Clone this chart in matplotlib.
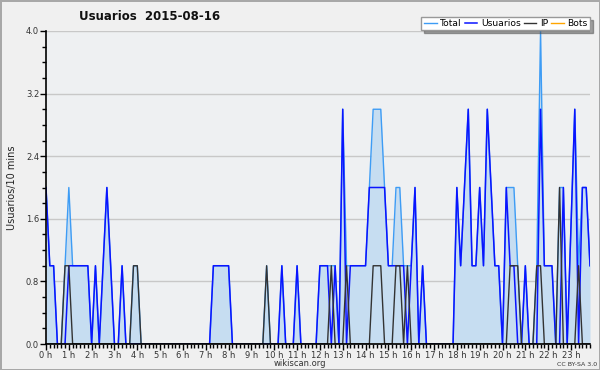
import matplotlib
matplotlib.use("Agg")
from matplotlib import pyplot as plt
from matplotlib.ticker import MultipleLocator, FixedLocator

# one value per 10 minutes, one row per hour (0 h ... 23 h)
usuarios = [
    2, 1, 1, 0, 0, 0,
    1, 1, 1, 1, 1, 1,
    0, 1, 0, 1, 2, 1,
    0, 0, 1, 0, 0, 0,
    0, 0, 0, 0, 0, 0,
    0, 0, 0, 0, 0, 0,
    0, 0, 0, 0, 0, 0,
    0, 0, 1, 1, 1, 1,
    1, 0, 0, 0, 0, 0,
    0, 0, 0, 0, 0, 0,
    0, 0, 1, 0, 0, 0,
    1, 0, 0, 0, 0, 0,
    1, 1, 1, 0, 1, 0,
    3, 0, 1, 1, 1, 1,
    1, 2, 2, 2, 2, 2,
    1, 1, 1, 1, 1, 0,
    1, 2, 0, 1, 0, 0,
    0, 0, 0, 0, 0, 0,
    2, 1, 2, 3, 1, 1,
    2, 1, 3, 2, 1, 1,
    0, 2, 1, 1, 0, 0,
    1, 0, 0, 0, 3, 1,
    1, 1, 0, 0, 2, 0,
    1.5, 3, 0, 2, 2, 1,
]
ip = [
    0, 0, 0, 0, 0, 1,
    1, 0, 0, 0, 0, 0,
    0, 0, 0, 0, 0, 0,
    0, 0, 0, 0, 0, 1,
    1, 0, 0, 0, 0, 0,
    0, 0, 0, 0, 0, 0,
    0, 0, 0, 0, 0, 0,
    0, 0, 0, 0, 0, 0,
    0, 0, 0, 0, 0, 0,
    0, 0, 0, 0, 1, 0,
    0, 0, 0, 0, 0, 0,
    0, 0, 0, 0, 0, 0,
    0, 0, 0, 1, 0, 0,
    0, 1, 0, 0, 0, 0,
    0, 0, 1, 1, 1, 0,
    0, 0, 1, 1, 0, 1,
    0, 0, 0, 0, 0, 0,
    0, 0, 0, 0, 0, 0,
    0, 0, 0, 0, 0, 0,
    0, 0, 0, 0, 0, 0,
    0, 0, 1, 1, 1, 0,
    0, 0, 0, 1, 1, 0,
    0, 0, 0, 2, 0, 0,
    0, 0, 1, 0, 0, 0,
]
total = [
    2, 1, 1, 0, 0, 1,
    2, 1, 1, 1, 1, 1,
    0, 1, 0, 1, 2, 1,
    0, 0, 1, 0, 0, 1,
    1, 0, 0, 0, 0, 0,
    0, 0, 0, 0, 0, 0,
    0, 0, 0, 0, 0, 0,
    0, 0, 1, 1, 1, 1,
    1, 0, 0, 0, 0, 0,
    0, 0, 0, 0, 1, 0,
    0, 0, 1, 0, 0, 0,
    1, 0, 0, 0, 0, 0,
    1, 1, 1, 1, 1, 0,
    3, 1, 1, 1, 1, 1,
    1, 2, 3, 3, 3, 2,
    1, 1, 2, 2, 1, 1,
    1, 2, 0, 1, 0, 0,
    0, 0, 0, 0, 0, 0,
    2, 1, 2, 3, 1, 1,
    2, 1, 3, 2, 1, 1,
    0, 2, 2, 2, 1, 0,
    1, 0, 0, 1, 4, 1,
    1, 1, 0, 2, 2, 0,
    1.5, 3, 1, 2, 2, 1,
]
bots = [
    0, 0, 0, 0, 0, 0, 0, 0, 0, 0, 0, 0, 0, 0, 0, 0, 0, 0, 0, 0, 0, 0, 0, 0,
    0, 0, 0, 0, 0, 0, 0, 0, 0, 0, 0, 0, 0, 0, 0, 0, 0, 0, 0, 0, 0, 0, 0, 0,
    0, 0, 0, 0, 0, 0, 0, 0, 0, 0, 0, 0, 0, 0, 0, 0, 0, 0, 0, 0, 0, 0, 0, 0,
    0, 0, 0, 0, 0, 0, 0, 0, 0, 0, 0, 0, 0, 0, 0, 0, 0, 0, 0, 0, 0, 0, 0, 0,
    0, 0, 0, 0, 0, 0, 0, 0, 0, 0, 0, 0, 0, 0, 0, 0, 0, 0, 0, 0, 0, 0, 0, 0,
    0, 0, 0, 0, 0, 0, 0, 0, 0, 0, 0, 0, 0, 0, 0, 0, 0, 0, 0, 0, 0, 0, 0, 0,
]
hour_labels = [str(h) + " h" for h in range(24)]
yticks = [0.0, 0.8, 1.6, 2.4, 3.2, 4.0]

x = list(range(len(total)))

fig = plt.figure(figsize=(6, 3.7), dpi=100, facecolor="#f0f0f0",
                 edgecolor="#a8a8a8", linewidth=2)
ax = fig.add_axes([46 / 600, 26 / 370, 544 / 600, 313 / 370])
ax.set_facecolor("#eef0f2")

ax.fill_between(x, total, color="#c6ddf1", lw=0)
ax.plot(x, total, color="#3d9cf5", lw=1, label="Total")
ax.plot(x, usuarios, color="#0a14ff", lw=1.1, label="Usuarios")
ax.plot(x, ip, color="#333333", lw=1, label="IP")
ax.plot(x, bots, color="#ffa500", lw=1, label="Bots", zorder=1)

ax.set_xlim(0, len(total) - 1)
ax.set_ylim(0, 4)

ax.yaxis.set_major_locator(FixedLocator(yticks))
ax.yaxis.set_minor_locator(MultipleLocator(0.2))
ax.set_yticklabels(["%.1f" % v for v in yticks])
ax.xaxis.set_major_locator(FixedLocator([h * 6 for h in range(24)]))
ax.xaxis.set_minor_locator(MultipleLocator(1))
ax.set_xticklabels(hour_labels)
ax.tick_params(axis="both", which="major", labelsize=6, length=4, width=1,
               pad=1, colors="#000000", labelcolor="#333333")
ax.tick_params(axis="both", which="minor", length=3, width=1)
ax.grid(axis="y", color="#c8c8c8", lw=1)
ax.set_axisbelow(True)
for s in ["top", "right"]:
    ax.spines[s].set_visible(False)
ax.spines["left"].set_linewidth(1.2)
ax.spines["bottom"].set_linewidth(1.2)

ax.set_ylabel("Usuarios/10 mins", fontsize=7, color="#222222", labelpad=6)

fig.text(150 / 600, 1 - 16 / 370, "Usuarios  2015-08-16", fontsize=8.5,
         fontweight="bold", ha="center", va="center", color="#111111")
fig.text(300 / 600, 1 - 364 / 370, "wikiscan.org", fontsize=6,
         ha="center", va="center", color="#333333")
fig.text(577 / 600, 1 - 364 / 370, "CC BY-SA 3.0", fontsize=4.5,
         ha="center", va="center", color="#333333")

leg = ax.legend(loc="upper right", bbox_to_anchor=(1.0, 1.045), ncol=4,
                fontsize=6.6, frameon=True, fancybox=False, shadow=True,
                handlelength=1.4, handletextpad=0.4, columnspacing=0.3,
                borderpad=0.25, borderaxespad=0)
leg.get_frame().set_edgecolor("#999999")
leg.get_frame().set_facecolor("#ffffff")

fig.savefig("out.png", dpi=100, facecolor=fig.get_facecolor(),
            edgecolor=fig.get_edgecolor())
